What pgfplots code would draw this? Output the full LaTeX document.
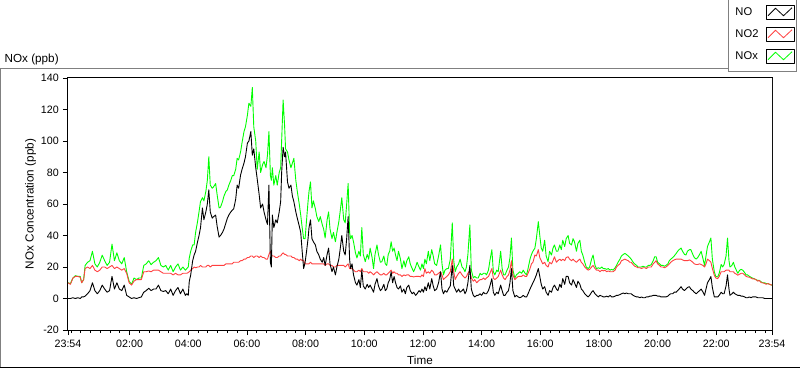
\documentclass[border=0pt]{standalone}
\usepackage{pgfplots}
\pgfplotsset{compat=1.18}
\usepackage{pgfplotstable}
\usepackage{fontspec}
\setmainfont{Liberation Sans}
\definecolor{noxgreen}{RGB}{0,255,0}
\definecolor{notwored}{RGB}{255,64,64}
\definecolor{framegray}{RGB}{128,128,128}

\pgfplotstableread{
t no no2 nox
0 0 10 10
5 0 9 9.5
10 0.5 13 13
15 0 14 14.5
20 0.5 14 14
25 0 13.5 14
28 1 10 10
32 1 12 12
35 1.5 19 21
40 3 20 23
45 5 19 24
50 10 21 30
55 5 18 22
60 3 17 20
65 5 18 23
70 8.5 20 27.5
75 6 20 24
80 4 19 21
85 5 20 23
90 14 21 34.5
95 6 19 24
100 10 20 29
105 6 19 24
110 5 18 22
115 8.5 19 26
120 2 16 17
125 1 10 11
130 0 8.5 9
135 0.5 11 13
140 0 12 12
145 0.5 12 13
150 1 12 13
155 4 17 21
160 5 17 22
165 6.5 17.5 24
170 5 17 21.5
175 6 18 23
180 6 18 24
185 8.5 18 26
190 5 17 21
195 4.5 16 20
200 5 16 21
205 3 16 18
210 6 16 21
215 2 15 17
220 5 16 20
225 7 15 22
230 3 15 18
235 6 16 20
240 2 16 18
243 3 16 19
246 2 16.5 20
248 10.7 17 25.7
251 15 18 30
255 24 19 34
258 27.6 20 34
261 30 19.5 42
265 36 20 48.8
268 40 20 55
271 44.8 21 61.5
275 57.5 20 64
278 50 20 62
282 55 20 68
285 60 21 75
288 69 21 90
291 55 20 72
295 51 21 70
298 52 21 71
302 53 21 73
305 46 21 66
309 39 21 57.5
312 40 21 58
316 42 21 61.5
319 44 21 65
323 48 22 68
326 51 22 69
329 53 22 72
333 55 22 75
336 56 22 78
339 57 23 78
343 63 23 82
346 72 23 89
349 70 23 88
353 78.4 24 93
356 82 24 99
360 86 25 106
363 90 25 109
367 98.7 26 116.5
370 100 26 124
374 106 27 122
377 91 27 134
380 95 26 109
384 83 27 100
387 76 27 82
391 66 26 93
394 57.5 27 80
398 60 26 85
401 55 26 87
405 50 25 83
408 47 25 91
411 72 28 106
414 23 30 78
416 20 28 75
418 53 27 83
421 45 27 72
425 50 26 78
428 48 26 72
432 55 27 80
435 61.5 27 83
437 80 28 100
440 96 29 126
443 90 28 110
445 93 28 95
449 74 27 93
452 70 27 88
456 72 27 83
459 65 26 86
462 61.5 26 89
466 55 25 75
469 51 25 68
473 46 24 60
476 42 25 53
479 30 24 45
482 19 24 38
485 23 22 38
488 30 22 50
491 38 22 61.5
493 45 22 68
496 50 23 74
499 38 22 57.5
502 36 22 62
506 34 22 57
509 30 22 52
513 27.6 22 48.8
516 25 22 52
520 23 22 47
523 26 22 44
526 21 21 38.4
530 28 22 50
533 32 22 55
536 22 21 44
540 17 21 38
543 20 20 42
547 15 20 36
550 20 21 42
554 25 21 48.8
557 32 21 56
560 40 21 64
564 30 21 50
567 27.6 20 48
570 38 21 60
573 52 22 73
576 25 19 42
578 19 19 38
581 22 19 40
584 15 18 36
588 10 17 29
591 8.5 17 25.7
595 12 18 30
598 7 17 27
601 18 19 45
604 8 17 28
608 6 17 23.4
612 9 17 28
615 7 16 25
618 8.5 17 32
622 6 16 26
625 4 15 19
628 9 16 28
632 12.6 17 34
635 8 16 28
639 5 15 23
642 6 15 23.4
646 9 16 27
649 5 15 22
652 6 15 21
655 10 16 28
658 12 17 30
661 17 18 36
664 10 16 30
667 14 17 32
670 10 16 27.6
673 7 16 24
676 6 15 30
680 8 15 25
683 4 14 19
687 6 15 24
690 3 14.5 20
693 7 15 24
697 8.5 15 26.5
700 5 14 22
704 3 14 19
707 4 13.7 17
711 2 14 20
714 3 14 23
718 5 14 20
721 4 13.7 18
724 6 15 22
727 4 14 19
730 7.5 19 25
733 5 16 22
737 10 17 30
740 6 16 24
744 12.6 18 31
747 8 17 27
750 5 15 22
754 6 15 21
758 10 16 27
762 17 17 34
765 6 15 22
768 3 12 15
771 5 13 18
775 4 14 19
778 6 15 19
782 8 17 25
786 21 25 48
789 8 17 24
792 6 12 17
795 4 14 20
799 6 16 22
802 4 17 25
806 5 15 20
809 6 14 19
812 3 13 17
815 5 14 20
818 10 16 28
822 21 18 46.7
825 6 13 18
829 2 11 13
832 1 12 14
836 2 10 13
839 2 11 13
843 3 12 16
846 2 12 15
850 4 13 16
853 3 12 16
856 3 13 15
860 5 14 18
863 8 16 24
867 12.6 19 31
870 4 13 17
873 2 12 15
877 4 13 18
880 3 14 17
885 8.5 18 30
888 5 15 19
891 2 13 15
894 2 12 15
898 4 14 18
901 5 15 20
904 10 18 26
907 19 24 38.4
910 5 15 18
914 1 12 13
917 2 13 15
921 1 14 16
924 0.5 14 17
928 1 14 16
931 2 15 18
935 1 14 16
938 1 14 15
941 3 16 19
945 6 19 25
948 8 22 28
951 10 23 30
955 12.6 27.6 32
958 15 27 38
962 19 31 48.8
965 14 26 40
968 9 24 32
971 6 22 30
975 7.5 23 37
978 4 21 27
982 2 20 23.4
985 5 23 30
989 4 22 27.6
992 7 24 32
995 8.5 26.5 34
999 6 23 30
1002 5 24 30
1006 9 25 34
1009 7 24 31
1012 12.6 25 37
1016 9 24 33
1019 14 26 38
1023 14 26.5 40
1026 10 25 35
1030 8.5 24 34
1033 12 25 38
1036 10 24 36
1040 7 23 30
1043 11 24 35
1047 9 25 37
1050 6 23 30
1053 5 22 27.6
1057 3 20 23
1060 2 19 20
1064 1 18 19
1067 2 18.5 20
1071 4 20 25
1074 5 21 27.6
1078 3 19 21
1081 2 18 19
1085 1 18 19.5
1088 2 17 19
1092 1.5 18 20
1095 1 17.5 19
1098 1 18 19
1102 1.5 17 18.5
1105 1 17.5 19
1109 2 17 18
1112 1 17 18.5
1115 1 17 18
1119 1.5 18 19.5
1122 2 20 21
1125 2 21 23
1129 2.5 22 25
1132 3 24 27
1136 3.5 24.5 28
1139 3 25 28.6
1142 3.5 24.5 28
1146 3 24 27
1149 3 23 26
1152 3 23 25
1156 2 21.5 23
1159 1.5 20.5 22
1163 1 20 21
1166 1 19.5 20
1170 0.5 19.5 20
1173 1 19 20
1176 0.5 19.5 20.5
1180 0.5 19.5 20
1183 1 19 20
1187 1 20 21
1190 1.5 20 21
1193 1.5 20 21.5
1197 2 22 24
1200 2 23 26.5
1203 2 24 26.5
1206 1.5 22 23
1210 1.5 21 22
1213 1 20 21
1217 1 20 21
1220 1 19.5 20.5
1223 1 20 21
1227 1.5 21 22
1230 2.5 22 24
1233 3 23 25
1237 3 24 26
1240 4 24.5 27
1244 4 25 28.6
1247 5 25 30
1250 6 25 31
1254 7.5 25 32
1257 6 24.5 30
1261 5 24 28
1264 6 24 27.6
1267 7 24 30
1271 7.5 24.5 31
1274 6 24 31
1278 5 23 28
1281 4 22 26
1285 3 21.6 25
1288 4 21.6 26
1292 5 22 28
1295 6 21.6 30
1299 4 21 25
1302 2 20 21
1305 6 22 27
1308 10 25 33
1312 12 24 36
1315 14 23 38.4
1318 7 19 25
1322 1 14.8 17
1325 1 13 14
1329 1 12.6 13.7
1332 2 14 16
1336 4 17 21.6
1339 3 17 20
1342 3 17 21.6
1346 8 18 27
1349 15 18 38.4
1352 6 18 24
1354 2 17 20
1358 3 17 21
1361 4 17 23
1364 3 16 20
1367 2.5 15.5 18
1370 2 14.8 16
1374 2 15.5 18
1377 1.5 16 18.5
1380 1.5 16 18
1384 1 15 16.5
1387 0.5 14 15
1390 0.5 13.7 15
1394 1 13.5 14
1397 0.5 13 13.5
1400 1 12.5 13
1404 1 12.5 12.5
1407 1 12 12
1411 0.5 11 11.5
1414 0.5 11.5 11.5
1418 0.5 10 10.5
1421 0.5 10 10
1425 0 9.5 10
1428 0 9 9.5
1432 0 9.5 9.5
1435 0 9 9
1440 0 8.5 8.5
}\datatab

\begin{document}
\begin{tikzpicture}
\path[use as bounding box] (-68pt,-39pt) rectangle (732pt,330pt);
\draw[framegray, line width=1pt] (-68pt,261pt) -- (662pt,261pt);
\draw[framegray, line width=1pt] (-67.5pt,261pt) -- (-67.5pt,-37.5pt);
\draw[black, line width=1pt] (-68pt,-37.5pt) -- (732pt,-37.5pt);
\node[anchor=west, inner sep=0pt, font=\fontsize{11.7}{14}\selectfont] at (-63.5pt,271pt) {NOx (ppb)};
\begin{axis}[
  scale only axis, width=704pt, height=252pt,
  xmin=0, xmax=1440, ymin=-20, ymax=140,
  xtick={0,126,246,366,486,606,726,846,966,1086,1206,1326,1440},
  xticklabels={23:54,02:00,04:00,06:00,08:00,10:00,12:00,14:00,16:00,18:00,20:00,22:00,23:54},
  minor xtick={6,26,...,1426},
  ytick={-20,0,20,40,60,80,100,120,140},
  tick pos=left,
  tick align=outside,
  major tick length=5pt, minor tick length=3pt,
  every tick/.style={black, line width=0.8pt},
  axis line style={black, line width=1pt},
  tick label style={font=\fontsize{10.7}{12}\selectfont},
  /pgf/number format/assume math mode=true,
  label style={font=\fontsize{11.7}{14}\selectfont},
  xlabel={Time}, ylabel={NOx Concentration (ppb)},
  xlabel style={at={(axis description cs:0.5,-0.119)}, anchor=center},
  ylabel style={at={(axis description cs:-0.0533,0.5)}, anchor=center},
  yticklabel style={anchor=east, inner sep=0pt, xshift=-4pt},
  xticklabel style={anchor=north, inner sep=0pt, yshift=-5pt},
  reverse legend,
  legend plot pos=right,
  legend cell align=left,
  legend style={at={(axis description cs:1.0355,1.0238)}, anchor=south east,
    draw=framegray, line width=1pt, fill=white, inner xsep=2pt, inner ysep=7.5pt,
    row sep=7.5pt, column sep=2pt, font=\fontsize{11.2}{13}\selectfont,
    nodes={inner xsep=5pt, inner ysep=0pt}},
  legend image code/.code={
    \draw[black, line width=1pt, fill=white] (0pt,-6.75pt) rectangle (28pt,6.75pt);
    \draw[#1, line width=0.8pt] (2pt,-3pt) -- (9.5pt,4.5pt) -- (17.5pt,-3pt) -- (26pt,5pt);
  },
]
\addplot[noxgreen, line width=0.9pt, line join=round] table[x=t,y=nox]{\datatab};
\addlegendentry{NOx}
\addplot[notwored, line width=0.9pt, line join=round] table[x=t,y=no2]{\datatab};
\addlegendentry{NO2}
\addplot[black, line width=0.9pt, line join=round] table[x=t,y=no]{\datatab};
\addlegendentry{NO}
\draw[framegray, line width=1pt] (rel axis cs:1,0) -- (rel axis cs:1,1);
\end{axis}
\end{tikzpicture}
\end{document}
